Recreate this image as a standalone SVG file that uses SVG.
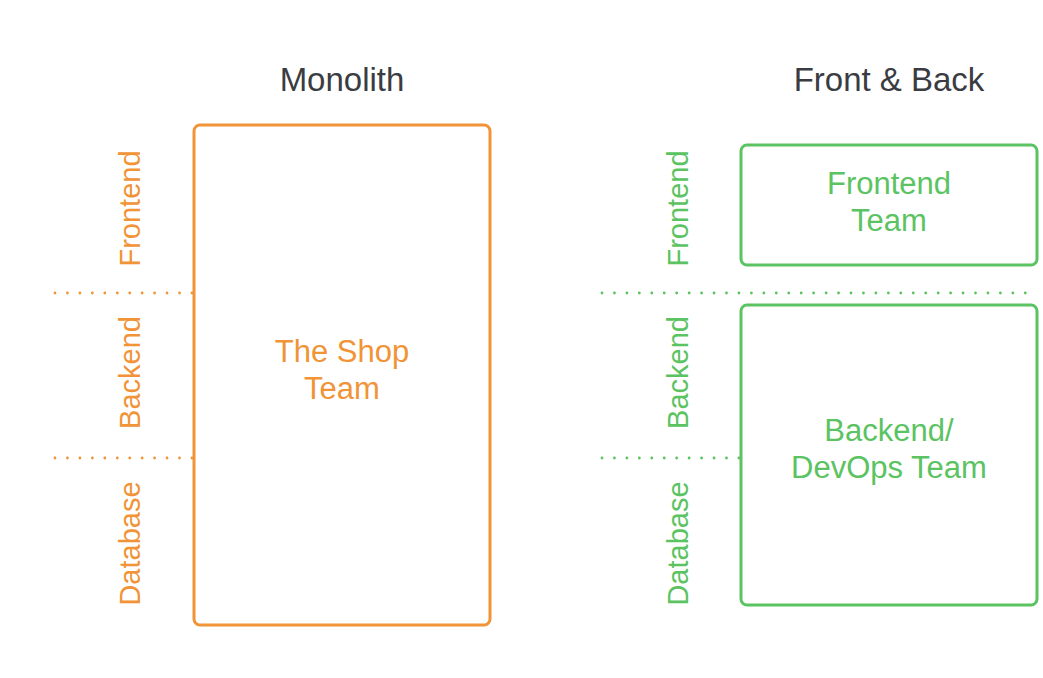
<svg xmlns="http://www.w3.org/2000/svg" width="1043" height="678" viewBox="0 0 1043 678">
<style>
.t{font-family:"Liberation Sans",Arial,sans-serif;}
.title{font-size:33px;fill:#3a3c42;text-anchor:middle;}
.lbl{font-size:29px;text-anchor:middle;}
.bl{font-size:31px;text-anchor:middle;}
.o{fill:#f09437;}
.g{fill:#5bc361;}
.boxo{fill:#fff;stroke:#f09437;stroke-width:3;}
.boxg{fill:#fff;stroke:#5bc361;stroke-width:3;}
.dot{fill:none;stroke-width:2.8;stroke-linecap:round;stroke-dasharray:0 12.45;}
</style>
<rect width="1043" height="678" fill="#fff"/>
<g id="titles">
<text class="t title" x="342" y="91">Monolith</text>
<text class="t title" x="889" y="91">Front &amp; Back</text>
</g>
<g id="connectors">
<line class="dot" x1="55" y1="293" x2="192" y2="293" stroke="#f09437"/>
<line class="dot" x1="55" y1="458" x2="192" y2="458" stroke="#f09437"/>
<line class="dot" x1="602" y1="293" x2="1035" y2="293" stroke="#5bc361"/>
<line class="dot" x1="602" y1="458" x2="739" y2="458" stroke="#5bc361"/>
</g>
<g id="layer-labels-left">
<text class="t lbl o" transform="translate(140,208.5) rotate(-90)">Frontend</text>
<text class="t lbl o" transform="translate(140,372.5) rotate(-90)">Backend</text>
<text class="t lbl o" transform="translate(140,543.5) rotate(-90)">Database</text>
</g>
<g id="layer-labels-right">
<text class="t lbl g" transform="translate(688,208.5) rotate(-90)">Frontend</text>
<text class="t lbl g" transform="translate(688,372.5) rotate(-90)">Backend</text>
<text class="t lbl g" transform="translate(688,543.5) rotate(-90)">Database</text>
</g>
<g id="shop-team">
<rect class="boxo" x="194" y="125" width="296" height="500" rx="6"/>
<text class="t bl o" x="342" y="362">The Shop</text>
<text class="t bl o" x="342" y="399">Team</text>
</g>
<g id="frontend-team">
<rect class="boxg" x="741" y="145" width="296" height="120" rx="6"/>
<text class="t bl g" x="889" y="194">Frontend</text>
<text class="t bl g" x="889" y="231">Team</text>
</g>
<g id="backend-team">
<rect class="boxg" x="741" y="305" width="296" height="300" rx="6"/>
<text class="t bl g" x="889" y="441">Backend/</text>
<text class="t bl g" x="889" y="478">DevOps Team</text>
</g>
</svg>
